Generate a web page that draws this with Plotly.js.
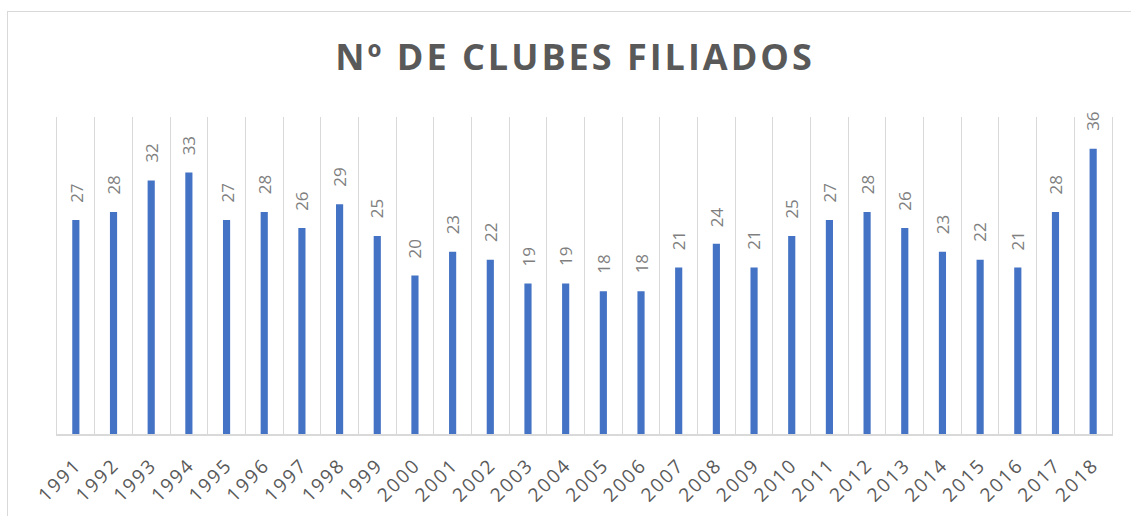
<!DOCTYPE html>
<html>
<head>
<meta charset="utf-8">
<script src="https://cdn.plot.ly/plotly-3.0.1.min.js"></script>
<style>
  html, body { margin: 0; padding: 0; overflow: hidden; background: #fff; }
  #chart { width: 1131px; height: 516px; }
  #frame { position: absolute; left: 7px; top: 11px; width: 1300px; height: 700px;
           border: 1px solid #d9d9d9; pointer-events: none; }
  .gtitle { letter-spacing: 3px; }
  .xtick text { letter-spacing: 2px; }
</style>
</head>
<body>
<div id="chart"></div>
<div id="frame"></div>
<script>
const years = ["1991","1992","1993","1994","1995","1996","1997","1998","1999","2000",
               "2001","2002","2003","2004","2005","2006","2007","2008","2009","2010",
               "2011","2012","2013","2014","2015","2016","2017","2018"];
const clubes = [27,28,32,33,27,28,26,29,25,20,23,22,19,19,18,18,21,24,21,25,27,28,26,23,22,21,28,36];
const chartTitle = "Nº DE CLUBES FILIADOS";

const trace = {
  type: "bar",
  x: years,
  y: clubes,
  marker: { color: "#4472C4" },
  hoverinfo: "x+y"
};

// category axis: annotation x given as category index
const annotations = years.map((yr, i) => ({
  x: i, y: clubes[i], xref: "x", yref: "y",
  text: String(clubes[i]),
  showarrow: false,
  textangle: -90,
  xanchor: "center", yanchor: "middle",
  yshift: 27,
  font: { family: "Open Sans, sans-serif", size: 17, color: "#7f7f7f" }
}));

const layout = {
  width: 1131, height: 516,
  margin: { l: 57, r: 19, t: 117, b: 82 },
  paper_bgcolor: "#ffffff",
  plot_bgcolor: "#ffffff",
  showlegend: false,
  bargap: 0.81,
  title: {
    text: "<b>" + chartTitle + "</b>",
    x: 575 / 1131, xanchor: "center", xref: "container",
    y: 1 - 57 / 516, yref: "container", yanchor: "middle",
    font: { family: "Open Sans, sans-serif", size: 36, color: "#595959" }
  },
  xaxis: {
    type: "category",
    range: [-0.5, years.length - 0.5],
    tickson: "boundaries",
    showgrid: true,
    gridcolor: "#d9d9d9",
    gridwidth: 1,
    showline: true,
    linecolor: "#d9d9d9",
    linewidth: 1.5,
    ticks: "",
    tickangle: -45,
    ticklabelstandoff: 11,
    tickfont: { family: "Open Sans, sans-serif", size: 19, color: "#595959" }
  },
  yaxis: {
    range: [0, 40],
    showgrid: false,
    zeroline: false,
    showticklabels: false,
    ticks: "",
    showline: true,
    mirror: true,
    linecolor: "#d9d9d9",
    linewidth: 1
  },
  annotations: annotations
};

Plotly.newPlot("chart", [trace], layout, { displayModeBar: false, staticPlot: true });
</script>
</body>
</html>
